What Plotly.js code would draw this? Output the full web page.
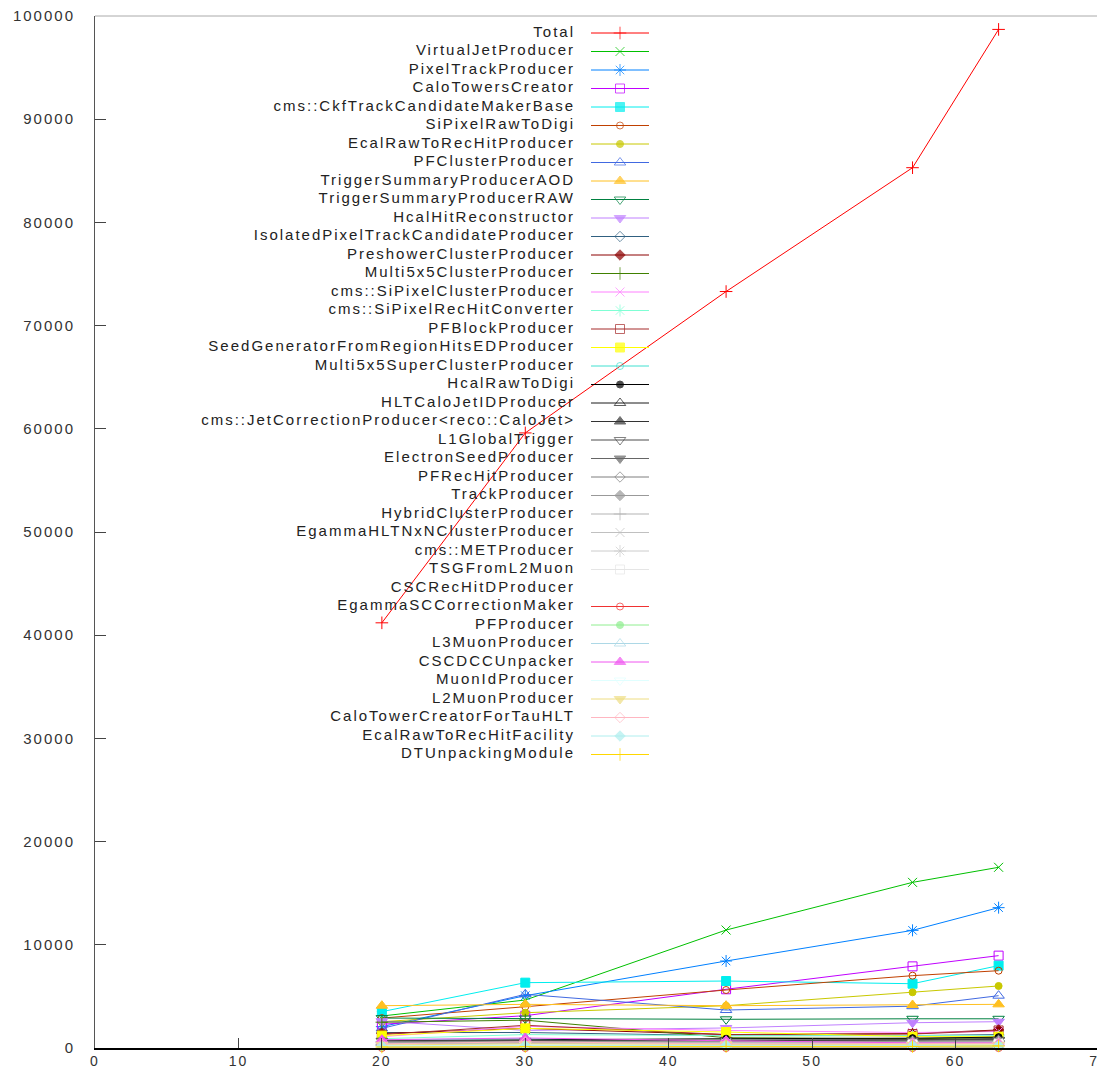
<!DOCTYPE html>
<html>
<head>
<meta charset="utf-8">
<script src="https://cdn.plot.ly/plotly-3.0.1.min.js"></script>
<style>
  html, body { margin: 0; padding: 0; overflow: hidden; background: #fff; }
  #chart { width: 1102px; height: 1074px; }
  svg text { letter-spacing: 2px; }
</style>
</head>
<body>
<div id="chart"></div>
<script>
// ---- data ----
const xValues = [20, 30, 44, 57, 63];

const seriesNames = [
  "Total", "VirtualJetProducer", "PixelTrackProducer", "CaloTowersCreator",
  "cms::CkfTrackCandidateMakerBase", "SiPixelRawToDigi", "EcalRawToRecHitProducer",
  "PFClusterProducer", "TriggerSummaryProducerAOD", "TriggerSummaryProducerRAW",
  "HcalHitReconstructor", "IsolatedPixelTrackCandidateProducer", "PreshowerClusterProducer",
  "Multi5x5ClusterProducer", "cms::SiPixelClusterProducer", "cms::SiPixelRecHitConverter",
  "PFBlockProducer", "SeedGeneratorFromRegionHitsEDProducer", "Multi5x5SuperClusterProducer",
  "HcalRawToDigi", "HLTCaloJetIDProducer", "cms::JetCorrectionProducer<reco::CaloJet>",
  "L1GlobalTrigger", "ElectronSeedProducer", "PFRecHitProducer", "TrackProducer",
  "HybridClusterProducer", "EgammaHLTNxNClusterProducer", "cms::METProducer",
  "TSGFromL2Muon", "CSCRecHitDProducer", "EgammaSCCorrectionMaker", "PFProducer",
  "L3MuonProducer", "CSCDCCUnpacker", "MuonIdProducer", "L2MuonProducer",
  "CaloTowerCreatorForTauHLT", "EcalRawToRecHitFacility", "DTUnpackingModule"
];

const seriesValues = [
  [41200, 59600, 73300, 85300, 98700],
  [3100, 4650, 11430, 16050, 17510],
  [2070, 5070, 8430, 11400, 13600],
  [2300, 3130, 5690, 7910, 8950],
  [3520, 6330, 6490, 6230, 7980],
  [2900, 4000, 5620, 7010, 7490],
  [2550, 3420, 4100, 5400, 6010],
  [1900, 5200, 3680, 4050, 5070],
  [4100, 4230, 4100, 4170, 4230],
  [2900, 2850, 2780, 2830, 2830],
  [2600, 1700, 1940, 2450, 2550],
  [1500, 1500, 1200, 1200, 1300],
  [1400, 1900, 1300, 1400, 1750],
  [2500, 2700, 1000, 900, 1000],
  [1100, 2100, 1700, 1500, 1600],
  [900, 1300, 1200, 1150, 1200],
  [1300, 2200, 1300, 1350, 1700],
  [1200, 1900, 1550, 1100, 1100],
  [800, 900, 500, 400, 500],
  [700, 800, 900, 950, 1050],
  [600, 700, 750, 800, 900],
  [500, 600, 700, 750, 850],
  [700, 700, 750, 800, 800],
  [400, 500, 600, 650, 700],
  [500, 550, 600, 650, 700],
  [600, 650, 650, 600, 650],
  [500, 500, 550, 550, 600],
  [400, 450, 500, 500, 550],
  [300, 350, 400, 400, 450],
  [300, 300, 350, 350, 400],
  [250, 300, 300, 300, 350],
  [0, 0, 0, 0, 0],
  [100, 100, 100, 100, 100],
  [150, 150, 200, 200, 200],
  [800, 970, 700, 500, 500],
  [300, 300, 300, 300, 300],
  [300, 400, 350, 300, 300],
  [400, 600, 400, 400, 450],
  [200, 250, 250, 250, 250],
  [100, 150, 150, 150, 200]
];

const yTickValues = [0, 10000, 20000, 30000, 40000, 50000, 60000, 70000, 80000, 90000, 100000];
const xTickValues = [0, 10, 20, 30, 40, 50, 60, 70];

// ---- styles ----
const colors = [
  "#ff0000", "#00c000", "#0080ff", "#c000ff", "#00eeee", "#c04000", "#c8c800",
  "#4169e1", "#ffc020", "#008040", "#c080ff", "#306080", "#8b0000", "#408000",
  "#ff80ff", "#7fffd4", "#a52a2a", "#ffff00", "#40e0d0", "#000000", "#1a1a1a",
  "#333333", "#4d4d4d", "#666666", "#7f7f7f", "#999999", "#b3b3b3", "#c0c0c0",
  "#cccccc", "#e5e5e5", "#ffffff", "#f03232", "#90ee90", "#add8e6", "#f055f0",
  "#e0ffff", "#eedd82", "#ffb6c1", "#afeeee", "#ffd700"
];
const symbolCycle = [
  "cross-thin-open", "x-thin-open", "asterisk-open", "square-open", "square",
  "circle-open", "circle", "triangle-up-open", "triangle-up", "triangle-down-open",
  "triangle-down", "diamond-open", "diamond"
];
const symbolSizes = [9, 9, 10, 9, 9, 7, 7, 10, 10, 10, 10, 8, 8];

// layout geometry (pixels)
const W = 1102, H = 1074;
const M = {l: 95, r: 3, t: 16, b: 26};
const legendTextX = 575, legendLineX0 = 591, legendLineX1 = 649;
const legendY0 = 33, legendDY = 18.5;

const traces = [];
seriesNames.forEach((name, i) => {
  const sym = symbolCycle[i % symbolCycle.length];
  const sz = symbolSizes[i % symbolCycle.length];
  traces.push({
    type: "scatter", mode: "lines+markers", name: name,
    x: xValues, y: seriesValues[i],
    line: {color: colors[i], width: 1},
    marker: {symbol: sym, size: sz, color: colors[i], line: {color: colors[i], width: 1}},
    showlegend: false, cliponaxis: false, hoverinfo: "skip"
  });
});

// legend drawn on pixel-space overlay axes
const legX = [], legY = [];
seriesNames.forEach((name, i) => {
  const ry = legendY0 + i * legendDY;
  const sym = symbolCycle[i % symbolCycle.length];
  const sz = symbolSizes[i % symbolCycle.length];
  traces.push({
    type: "scatter", mode: "lines+markers", xaxis: "x2", yaxis: "y2",
    x: [legendLineX0, (legendLineX0 + legendLineX1) / 2, legendLineX1], y: [ry, ry, ry],
    line: {color: colors[i], width: 1},
    marker: {symbol: sym, size: [0, sz, 0], color: colors[i], line: {color: colors[i], width: 1}},
    showlegend: false, hoverinfo: "skip", cliponaxis: false
  });
  legX.push(legendTextX); legY.push(ry);
});
traces.push({
  type: "scatter", mode: "text", xaxis: "x2", yaxis: "y2",
  x: legX, y: legY, text: seriesNames, textposition: "middle left",
  textfont: {family: "Liberation Sans, Arial, sans-serif", size: 15, color: "#222"},
  showlegend: false, hoverinfo: "skip", cliponaxis: false
});

const layout = {
  width: W, height: H,
  margin: M,
  paper_bgcolor: "#ffffff", plot_bgcolor: "#ffffff",
  showlegend: false,
  font: {family: "Liberation Sans, Arial, sans-serif", size: 15, color: "#333"},
  xaxis: {
    range: [0, 70.0001], tickvals: xTickValues, ticktext: xTickValues.map(String),
    ticks: "inside", ticklen: 10, tickcolor: "#444", tickwidth: 1,
    showline: true, linecolor: "#000", linewidth: 1.5,
    showgrid: false, zeroline: false, ticklabelstandoff: 0,
    ticklabeloverflow: "allow",
    tickfont: {family: "Liberation Sans, Arial, sans-serif", size: 14, color: "#333"}
  },
  yaxis: {
    range: [0, 100000], tickvals: yTickValues, ticktext: yTickValues.map(String),
    ticks: "inside", ticklen: 11, tickcolor: "#444", tickwidth: 1,
    showline: true, linecolor: "#555", linewidth: 1,
    showgrid: false, zeroline: false, ticklabelstandoff: 16,
    tickfont: {family: "Liberation Sans, Arial, sans-serif", size: 15, color: "#333"}
  },
  xaxis2: {overlaying: "x", range: [M.l, W - M.r], visible: false, fixedrange: true},
  yaxis2: {overlaying: "y", range: [H - M.b, M.t], visible: false, fixedrange: true},
  shapes: [{
    type: "line", xref: "paper", yref: "paper", x0: 0, x1: 1, y0: 1, y1: 1,
    line: {color: "#aaaaaa", width: 1}
  }]
};

Plotly.newPlot("chart", traces, layout, {displayModeBar: false, staticPlot: true});
</script>
</body>
</html>
